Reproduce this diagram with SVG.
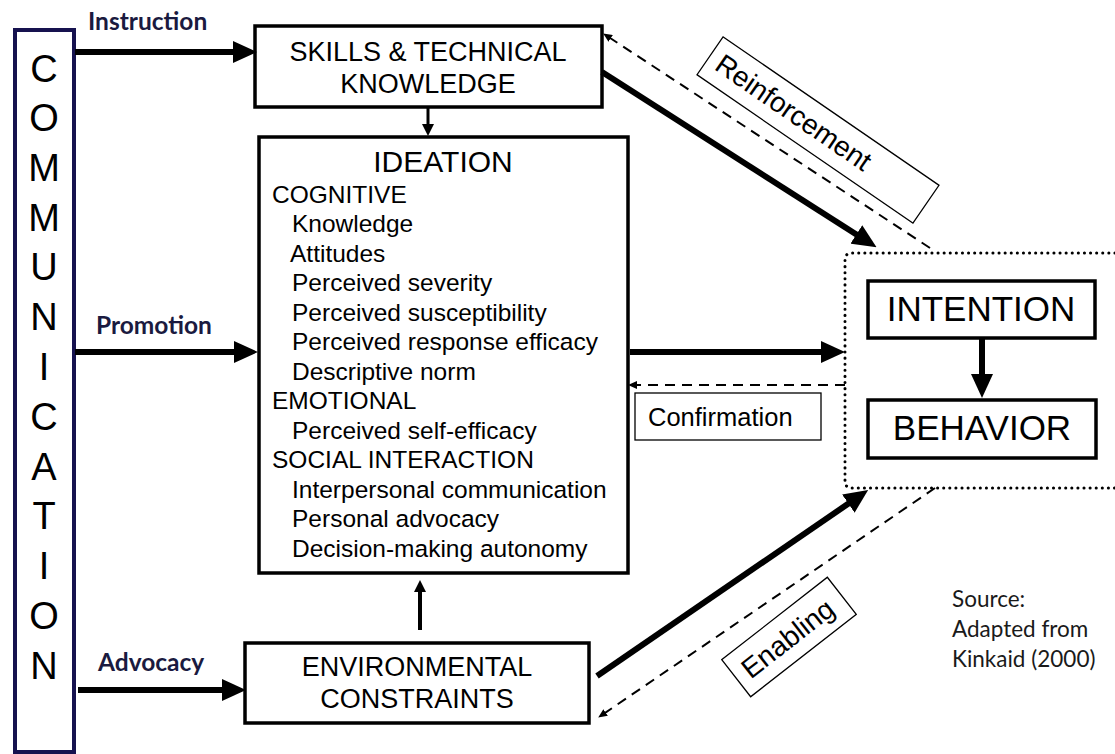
<svg xmlns="http://www.w3.org/2000/svg" width="1115" height="754" viewBox="0 0 1115 754">
<style>
.box{fill:#fff;stroke:#000;stroke-width:3.5}
.t{font-family:"Liberation Sans",Arial,sans-serif;fill:#000}
.lbl{font-family:Lato,"Liberation Sans",sans-serif;font-weight:bold;font-size:24.5px;fill:#1a1a40}
.thick{stroke:#000;stroke-width:6;fill:none}
.dash{stroke:#000;stroke-width:2;fill:none;stroke-dasharray:10 7}
.lb{fill:#fff;stroke:#000;stroke-width:1.3}
</style>
<defs>
<marker id="big" markerUnits="userSpaceOnUse" markerWidth="24" markerHeight="22" refX="2" refY="11" orient="auto"><path d="M0,0 L24,11 L0,22 z" fill="#000"/></marker>
<marker id="mid" markerUnits="userSpaceOnUse" markerWidth="12" markerHeight="12" refX="1" refY="6" orient="auto"><path d="M0,0 L12,6 L0,12 z" fill="#000"/></marker>
<marker id="small" markerUnits="userSpaceOnUse" markerWidth="9" markerHeight="8" refX="8" refY="4" orient="auto"><path d="M0,0 L9,4 L0,8 z" fill="#000"/></marker>
</defs>
<rect width="1115" height="754" fill="#fff"/>

<g id="communication">
<rect x="15" y="30" width="59" height="722" fill="#fff" stroke="#16124f" stroke-width="4"/>
<g class="t" font-size="38" text-anchor="middle">
<text x="44" y="82">C</text>
<text x="44" y="131">O</text>
<text x="44" y="181">M</text>
<text x="44" y="231">M</text>
<text x="44" y="280">U</text>
<text x="44" y="330">N</text>
<text x="44" y="380">I</text>
<text x="44" y="430">C</text>
<text x="44" y="480">A</text>
<text x="44" y="529">T</text>
<text x="44" y="579">I</text>
<text x="44" y="629">O</text>
<text x="44" y="679">N</text>
</g>
</g>

<g id="skills">
<rect class="box" x="255" y="26" width="347" height="81"/>
<text class="t" font-size="27" text-anchor="middle" x="428" y="61">SKILLS &amp; TECHNICAL</text>
<text class="t" font-size="27" text-anchor="middle" x="428" y="93">KNOWLEDGE</text>
</g>

<g id="ideation">
<rect class="box" x="259" y="137" width="369" height="436"/>
<text class="t" font-size="30" text-anchor="middle" x="443" y="172">IDEATION</text>
<g class="t" font-size="24.5">
<text x="272" y="203">COGNITIVE</text>
<text x="292" y="232">Knowledge</text>
<text x="290" y="262">Attitudes</text>
<text x="292" y="291">Perceived severity</text>
<text x="292" y="321">Perceived susceptibility</text>
<text x="292" y="350">Perceived response efficacy</text>
<text x="292" y="380">Descriptive norm</text>
<text x="272" y="409">EMOTIONAL</text>
<text x="292" y="439">Perceived self-efficacy</text>
<text x="272" y="468">SOCIAL INTERACTION</text>
<text x="292" y="498">Interpersonal communication</text>
<text x="292" y="527">Personal advocacy</text>
<text x="292" y="557">Decision-making autonomy</text>
</g>
</g>

<g id="environmental">
<rect class="box" x="245" y="643" width="344" height="80"/>
<text class="t" font-size="27" text-anchor="middle" x="417" y="676">ENVIRONMENTAL</text>
<text class="t" font-size="27" text-anchor="middle" x="417" y="708">CONSTRAINTS</text>
</g>

<g id="group">
<path d="M1115,253 H852 Q845,253 845,260 V481 Q845,488 852,488 H1115" fill="none" stroke="#000" stroke-width="3" stroke-linecap="round" stroke-dasharray="0.1 6"/>
</g>

<g id="intention">
<rect class="box" x="868" y="281" width="227" height="57"/>
<text class="t" font-size="35" text-anchor="middle" x="981" y="321">INTENTION</text>
</g>

<g id="behavior">
<rect class="box" x="868" y="400" width="228" height="58"/>
<text class="t" font-size="35" text-anchor="middle" x="982" y="440">BEHAVIOR</text>
</g>

<g id="connectors">
<line class="thick" x1="75" y1="52" x2="235" y2="52" marker-end="url(#big)"/>
<line class="thick" x1="75" y1="352" x2="236" y2="352" marker-end="url(#big)"/>
<line class="thick" x1="78" y1="690" x2="224" y2="690" marker-end="url(#big)"/>
<line class="thick" x1="630" y1="352" x2="823" y2="352" marker-end="url(#big)"/>
<line stroke="#000" stroke-width="3" x1="428" y1="107" x2="428" y2="125" marker-end="url(#mid)"/>
<line stroke="#000" stroke-width="4" x1="420" y1="630" x2="420" y2="591" marker-end="url(#mid)"/>
<line class="thick" x1="982" y1="338" x2="982" y2="376" marker-end="url(#big)"/>
<line class="thick" x1="602" y1="72" x2="858" y2="235.5" marker-end="url(#big)"/>
<line class="thick" x1="597" y1="676" x2="850" y2="502.5" marker-end="url(#big)"/>
<line class="dash" x1="930" y1="248" x2="604" y2="34" marker-end="url(#small)"/>
<line class="dash" x1="845" y1="385" x2="629" y2="385" marker-end="url(#small)"/>
<line class="dash" x1="935" y1="488" x2="599" y2="717" marker-end="url(#small)"/>
</g>

<g id="labels">
<text class="lbl" x="88" y="30">Instruction</text>
<text class="lbl" x="96" y="334">Promotion</text>
<text class="lbl" x="98" y="671">Advocacy</text>
<g id="reinforcement" transform="translate(818,130) rotate(34.5)">
<rect class="lb" x="-131" y="-23" width="262" height="46"/>
<text class="t" font-size="28" text-anchor="middle" x="-30" y="9">Reinforcement</text>
</g>
<g id="confirmation">
<rect class="lb" x="635" y="393" width="186" height="47"/>
<text class="t" font-size="25.5" x="648" y="426">Confirmation</text>
</g>
<g id="enabling" transform="translate(789,637) rotate(-38)">
<rect class="lb" x="-67" y="-23.5" width="134" height="47"/>
<text class="t" font-size="28" text-anchor="middle" x="-2" y="10">Enabling</text>
</g>
<g font-family="Lato,'Liberation Sans',sans-serif" font-size="22.5" fill="#1a1a1a">
<text x="952" y="607">Source:</text>
<text x="952" y="637">Adapted from</text>
<text x="952" y="667">Kinkaid (2000)</text>
</g>
</g>
</svg>
